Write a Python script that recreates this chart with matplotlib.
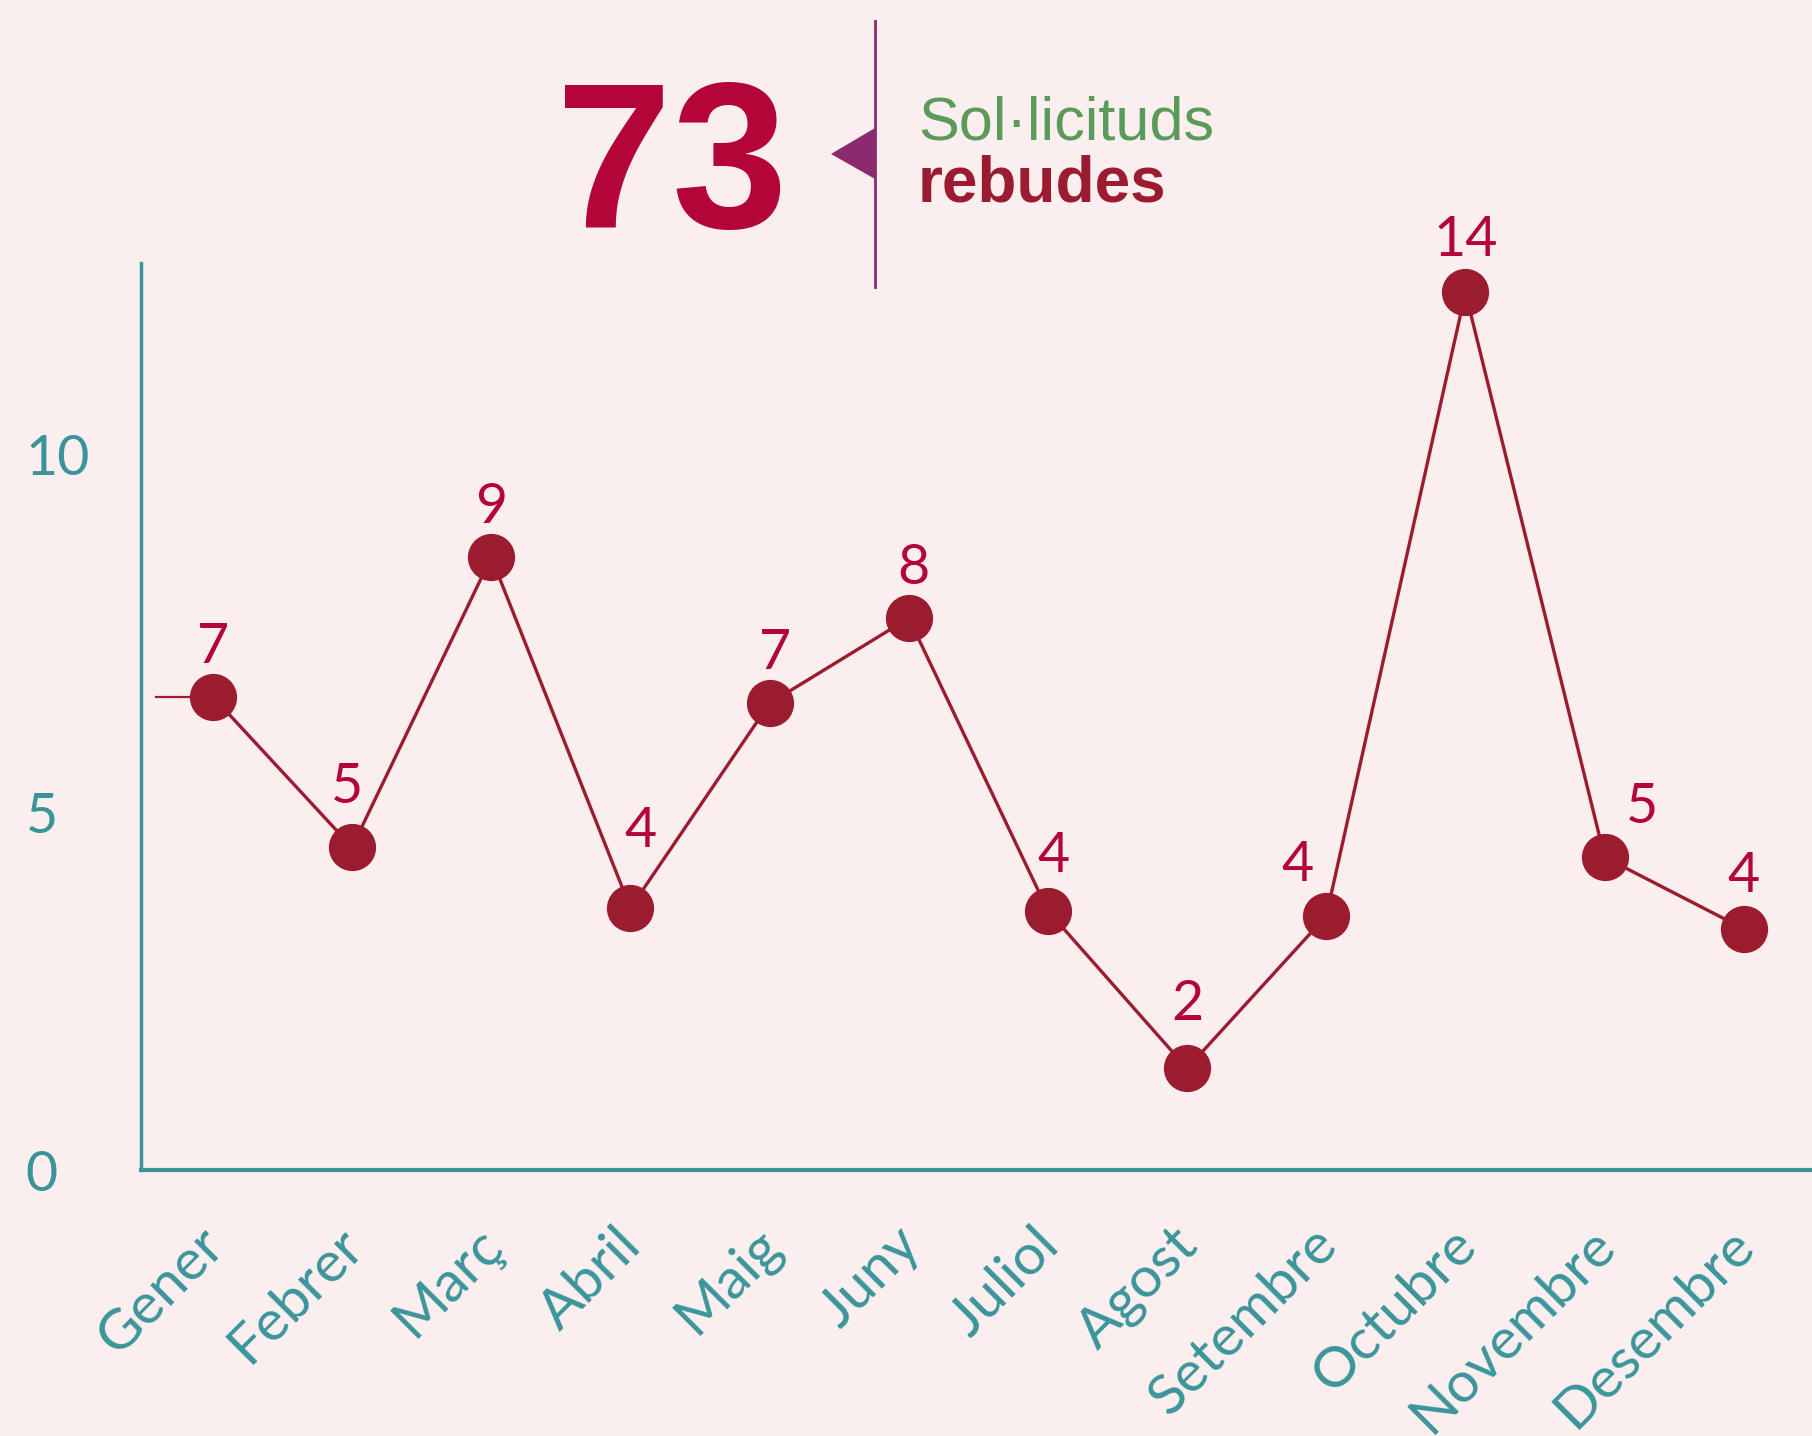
import matplotlib.pyplot as plt
from matplotlib.patches import Polygon
from matplotlib.lines import Line2D
from matplotlib.transforms import ScaledTranslation

# monthly requests (label values) and the heights the points sit at in the picture
months = ['Gener', 'Febrer', 'Març', 'Abril', 'Maig', 'Juny', 'Juliol',
          'Agost', 'Setembre', 'Octubre', 'Novembre', 'Desembre']
counts = [7, 5, 9, 4, 7, 8, 4, 2, 4, 14, 5, 4]
plotted = [6.61, 4.51, 8.56, 3.66, 6.52, 7.71, 3.62, 1.42, 3.55, 12.26, 4.37, 3.37]
yticks = [0, 5, 10]
total = sum(counts)

# label nudges in points (x, y above the point)
label_dx = [0, -4, 0, 7, 4, 3, 4, 0, -21, 0, 27, 0]
label_dy = [24.5, 32, 25, 44, 25, 24.5, 28, 34.5, 25, 26, 25, 26.5]

bg = '#FAEEEE'
teal = '#3A959B'
dark_red = '#9C1C2F'
crimson = '#B30537'
purple = '#8B2A6E'
green = '#5A9A5A'

fig = plt.figure(figsize=(18.12, 14.36), dpi=100, facecolor=bg)
ax = fig.add_axes([0.0778, 0.1852, 0.9222, 0.6316])
ax.set_facecolor(bg)

x = list(range(len(months)))
# small stub before the first point
ax.plot([-0.41, 0], [plotted[0], plotted[0]], color=dark_red, lw=1.6, zorder=2)
ax.plot(x, plotted, color=dark_red, lw=2.4, marker='o', markersize=33,
        markerfacecolor=dark_red, markeredgecolor=dark_red, zorder=3)

for i, (c, v) in enumerate(zip(counts, plotted)):
    ax.annotate(str(c), (i, v), xytext=(label_dx[i], label_dy[i]),
                textcoords='offset points', ha='center', va='baseline',
                fontsize=40, color=crimson, family='Lato')

ax.set_xlim(-0.517, 11.49)
ax.set_ylim(0, 12.67)

for s in ['top', 'right']:
    ax.spines[s].set_visible(False)
ax.spines['left'].set_color(teal)
ax.spines['left'].set_linewidth(2.5)
ax.spines['bottom'].set_color(teal)
ax.spines['bottom'].set_linewidth(3)

ax.set_yticks(yticks)
ax.set_yticklabels([str(t) for t in yticks], fontsize=40, color=teal, family='Lato')
for lab in ax.get_yticklabels():
    lab.set_horizontalalignment('left')
ax.tick_params(axis='y', length=0, pad=83)

ax.set_xticks(x)
ax.set_xticklabels(months, rotation=45, ha='right', va='top', rotation_mode='anchor',
                   fontsize=41, color=teal, family='Lato')
ax.tick_params(axis='x', length=0, pad=35)
shift = ScaledTranslation(-11 / 72, 0, fig.dpi_scale_trans)
for lab in ax.get_xticklabels():
    lab.set_transform(lab.get_transform() + shift)

# header
fig.text(556 / 1812, 1 - 228 / 1436, str(total), fontsize=150, fontweight='bold',
         color=crimson, family='Liberation Sans', ha='left', va='baseline')
fig.add_artist(Line2D([875 / 1812, 875 / 1812], [1 - 21 / 1436, 1 - 287 / 1436],
                      color=purple, lw=2, transform=fig.transFigure))
fig.add_artist(Polygon([[831 / 1812, 1 - 154 / 1436], [875 / 1812, 1 - 128 / 1436],
                        [875 / 1812, 1 - 179 / 1436]], closed=True,
                       facecolor=purple, edgecolor='none', transform=fig.transFigure))
fig.text(918 / 1812, 1 - 140 / 1436, 'Sol·licituds', fontsize=44, color=green,
         family='Liberation Sans', ha='left', va='baseline')
fig.text(918 / 1812, 1 - 202 / 1436, 'rebudes', fontsize=46, color='#9B1B30',
         family='Liberation Sans', fontweight='bold', ha='left', va='baseline')

fig.savefig('out.png', dpi=100, facecolor=bg)
